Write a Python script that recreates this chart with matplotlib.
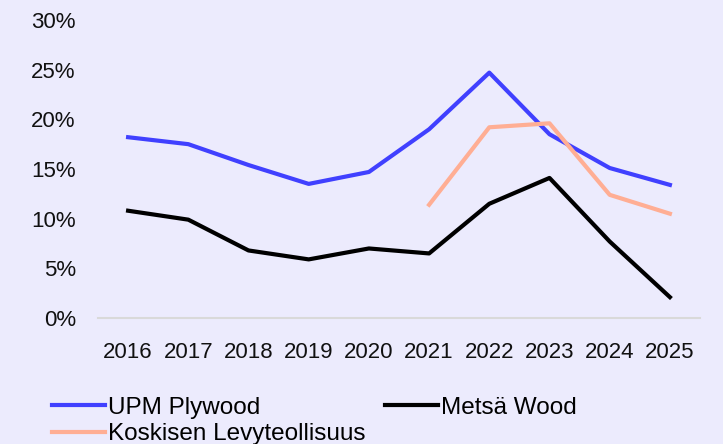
import matplotlib.pyplot as plt
import numpy as np

plt.rcParams['font.family'] = ['Liberation Sans', 'DejaVu Sans']

years = ['2016', '2017', '2018', '2019', '2020', '2021', '2022', '2023', '2024', '2025']
upm = [18.2, 17.5, 15.4, 13.5, 14.7, 19.0, 24.7, 18.5, 15.1, 13.4]
metsa = [10.8, 9.9, 6.8, 5.9, 7.0, 6.5, 11.5, 14.1, 7.7, 2.1]
koskisen = [np.nan, np.nan, np.nan, np.nan, np.nan, 11.4, 19.2, 19.6, 12.4, 10.5]

bg = '#ECEBFD'
fig = plt.figure(figsize=(7.23, 4.44), dpi=100, facecolor=bg)
ax = fig.add_axes([98/723, 1-318/444, (700-98)/723, (318-20)/444])
ax.set_facecolor(bg)

x = np.arange(len(years))
l1, = ax.plot(x, upm, color='#4040FF', lw=3, label='UPM Plywood')
l2, = ax.plot(x, metsa, color='#000000', lw=3, label='Metsä Wood')
l3, = ax.plot(x, koskisen, color='#FFAE94', lw=3, label='Koskisen Levyteollisuus')

ax.set_xlim(-0.5, len(years) - 0.5)
ax.set_ylim(0, 30)
ax.set_yticks(range(0, 31, 5))
ax.set_yticklabels([f'{v}%' for v in range(0, 31, 5)])
ax.set_xticks(x)
ax.set_xticklabels(years)
ax.tick_params(length=0, labelsize=16, colors='#111111')
ax.tick_params(axis='y', pad=16)
ax.tick_params(axis='x', pad=17)
for s in ['top', 'right', 'left']:
    ax.spines[s].set_visible(False)
ax.spines['bottom'].set_color('#D9D9D9')
ax.spines['bottom'].set_linewidth(1.5)

# column-wise fill: UPM / Koskisen in first column, Metsä in second
fig.legend([l1, l3, l2], ['UPM Plywood', 'Koskisen Levyteollisuus', 'Metsä Wood'],
           loc='upper left', bbox_to_anchor=(0.059, 0.128), ncol=2, frameon=False,
           fontsize=17.5, handlelength=2.18, handletextpad=0.12, columnspacing=0.8,
           labelspacing=0.18, borderaxespad=0)

fig.savefig('out.png', dpi=100, facecolor=bg)
